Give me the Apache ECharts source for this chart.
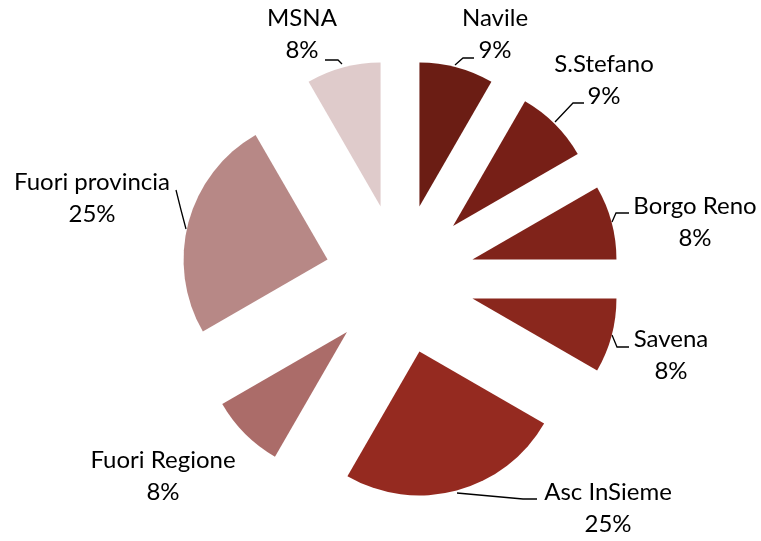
<!DOCTYPE html>
<html>
<head>
<meta charset="utf-8">
<script src="https://cdn.jsdelivr.net/npm/echarts@6/dist/echarts.min.js"></script>
<style>
  html, body { margin: 0; padding: 0; background: #fff; }
  #chart { width: 761px; height: 541px; }
</style>
</head>
<body>
<div id="chart"></div>
<script>
// data (slices are 1/12 or 3/12 of the pie)
const zones = ['Navile', 'S.Stefano', 'Borgo Reno', 'Savena', 'Asc InSieme', 'Fuori Regione', 'Fuori provincia', 'MSNA'];
const counts = [1, 1, 1, 1, 3, 1, 3, 1];
const shares = ['9%', '9%', '8%', '8%', '25%', '8%', '25%', '8%'];

const palette = ['#6b1d14', '#771f17', '#80231a', '#8a271d', '#952a20', '#ab6c69', '#b78886', '#dfcbcb'];
// label placement (text centre) and leader lines, as in the original
const labelSpots = [[495, 34], [604, 80], [695, 222], [671, 355], [608, 508], [163, 476], [92, 198], [302, 34]];
const leaderLines = [
  [[455, 65], [463, 58], [474, 58]],
  [[555, 122], [573, 103], [584, 103]],
  [[612, 222], [616, 213], [629, 213]],
  [[612, 335], [617, 347], [629, 347]],
  [[457, 493], [523, 499], [537, 499]],
  null,
  [[186, 229], [181, 210], [176, 190]],
  [[342, 64], [338, 60], [325, 60]]
];

const pieCenter = [400, 279];
const pieRadius = 144;
const explode = 75;

let chartDom = document.getElementById('chart');
let myChart = echarts.init(chartDom);

// every slice is its own pie, pushed out along its bisector (exploded pie)
let total = counts.reduce((a, b) => a + b, 0);
let series = [];
let start = 0;
for (let i = 0; i < zones.length; i++) {
  let frac = counts[i] / total;
  let mid = (start + frac / 2) * Math.PI * 2;
  let spot = labelSpots[i];
  let line = leaderLines[i];
  series.push({
    type: 'pie',
    name: zones[i],
    center: [pieCenter[0] + explode * Math.sin(mid), pieCenter[1] - explode * Math.cos(mid)],
    radius: pieRadius,
    startAngle: 90 - start * 360,
    clockwise: true,
    silent: true,
    emphasis: { disabled: true },
    label: {
      show: true,
      position: 'outside',
      overflow: 'none',
      color: '#000',
      fontFamily: 'Lato',
      fontSize: 24,
      lineHeight: 32,
      formatter: () => zones[i] + '\n' + shares[i]
    },
    labelLine: {
      show: line !== null,
      length: 8,
      length2: 10,
      lineStyle: { color: '#000', width: 1.3 }
    },
    labelLayout: () => {
      let lay = { x: spot[0], y: spot[1], align: 'center', verticalAlign: 'middle' };
      if (line) lay.labelLinePoints = line;
      return lay;
    },
    data: [
      { name: zones[i], value: counts[i], itemStyle: { color: palette[i] } },
      {
        name: '', value: total - counts[i],
        itemStyle: { color: 'rgba(0,0,0,0)' },
        label: { show: false }, labelLine: { show: false }
      }
    ]
  });
  start += frac;
}

myChart.setOption({
  animation: false,
  backgroundColor: '#fff',
  series: series
});
</script>
</body>
</html>
